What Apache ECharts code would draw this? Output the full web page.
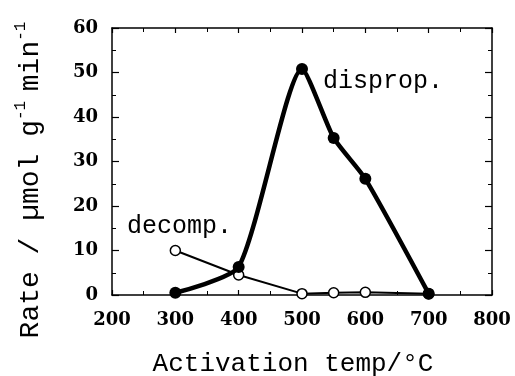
<!DOCTYPE html>
<html>
<head>
<meta charset="utf-8">
<script src="https://cdn.jsdelivr.net/npm/echarts@6/dist/echarts.min.js"></script>
<style>html,body{margin:0;padding:0;background:#fff;}#c{width:515px;height:376px;}</style>
</head>
<body>
<div id="c"></div>
<script>
var temps = [300, 400, 500, 550, 600, 700];
var disprop = [0.5, 6.3, 50.8, 35.3, 26.1, 0.3];
var decomp = [10.0, 4.5, 0.3, 0.5, 0.6, 0.3];
var xTicks = [200, 300, 400, 500, 600, 700, 800];
var yTicks = [0, 10, 20, 30, 40, 50, 60];

function pairs(xs, ys) { return xs.map(function (x, i) { return [x, ys[i]]; }); }

var chart = echarts.init(document.getElementById('c'));
var mono = '"Liberation Mono", "DejaVu Sans Mono", monospace';
var serifB = '"DejaVu Serif", serif';

var xCommon = {
  type: 'value', min: xTicks[0], max: xTicks[xTicks.length - 1], interval: 100,
  axisLine: { show: true, onZero: false, lineStyle: { color: '#000', width: 1.5 } },
  axisTick: { show: true, inside: true, length: 5, lineStyle: { color: '#000', width: 1.2 } },
  minorTick: { show: true, splitNumber: 2, length: 4, lineStyle: { color: '#000', width: 1 } },
  splitLine: { show: false }
};
var yCommon = {
  type: 'value', min: yTicks[0], max: yTicks[yTicks.length - 1], interval: 10,
  axisLine: { show: true, onZero: false, lineStyle: { color: '#000', width: 1.5 } },
  axisTick: { show: true, inside: true, length: 7, lineStyle: { color: '#000', width: 1.2 } },
  minorTick: { show: true, splitNumber: 2, length: 4, lineStyle: { color: '#000', width: 1 } },
  splitLine: { show: false }
};

chart.setOption({
  animation: false,
  backgroundColor: '#fff',
  grid: { left: 112, right: 23, top: 28, bottom: 81 },
  xAxis: [
    Object.assign({}, xCommon, {
      position: 'bottom',
      axisLabel: { show: true, color: '#000', fontFamily: serifB, fontWeight: 'bold', fontSize: 18, margin: 16 }
    }),
    Object.assign({}, xCommon, { position: 'top', axisLabel: { show: false } })
  ],
  yAxis: [
    Object.assign({}, yCommon, {
      position: 'left',
      axisLabel: { show: true, color: '#000', fontFamily: serifB, fontWeight: 'bold', fontSize: 18, margin: 14 }
    }),
    Object.assign({}, yCommon, { position: 'right', axisLabel: { show: false } })
  ],
  series: [
    {
      name: 'decomp.', type: 'line', xAxisIndex: 0, yAxisIndex: 0,
      data: pairs(temps, decomp),
      symbol: 'circle', symbolSize: 10,
      lineStyle: { color: '#000', width: 2 },
      itemStyle: { color: '#fff', borderColor: '#000', borderWidth: 1.5 },
      z: 2
    },
    {
      name: 'disprop.', type: 'line', xAxisIndex: 0, yAxisIndex: 0,
      data: pairs(temps, disprop),
      smooth: 0.2,
      symbol: 'circle', symbolSize: 12,
      lineStyle: { color: '#000', width: 4.5 },
      itemStyle: { color: '#000', borderColor: '#000', borderWidth: 0 },
      z: 3
    }
  ],
  graphic: [
    { type: 'text', left: 323, top: 69, style: { text: 'disprop.', font: '25px ' + mono, fill: '#000' } },
    { type: 'text', left: 127, top: 214, style: { text: 'decomp.', font: '25px ' + mono, fill: '#000' } },
    { type: 'text', x: 293, y: 364, style: { text: 'Activation temp/°C', font: '26px ' + mono, fill: '#000', textAlign: 'center', textVerticalAlign: 'middle' } },
    {
      type: 'text', x: 29, y: 180, rotation: Math.PI / 2,
      style: {
        text: '{n|Rate / µmol g}{s|-1 }{n|min}{s|-1}',
        textAlign: 'center', textVerticalAlign: 'middle', fill: '#000',
        rich: {
          n: { fontFamily: mono, fontSize: 28, lineHeight: 32, verticalAlign: 'bottom' },
          s: { fontFamily: mono, fontSize: 16, lineHeight: 32, verticalAlign: 'top' }
        }
      }
    }
  ]
});
</script>
</body>
</html>
